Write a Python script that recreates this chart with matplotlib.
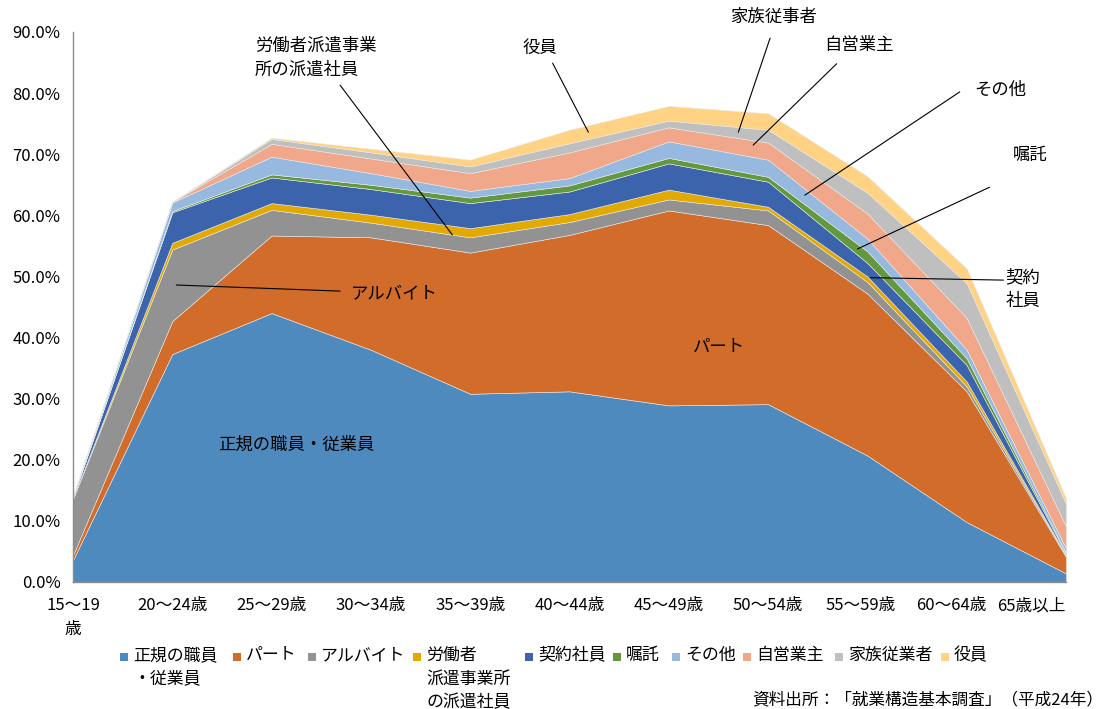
import matplotlib
matplotlib.use("Agg")
import matplotlib.pyplot as plt
import matplotlib.transforms as mtransforms
from matplotlib.patches import Rectangle
import numpy as np

plt.rcParams['font.family'] = ['Noto Sans CJK JP', 'DejaVu Sans']

# 年齢階級
ages = ["15～19\n歳", "20～24歳", "25～29歳", "30～34歳", "35～39歳", "40～44歳",
        "45～49歳", "50～54歳", "55～59歳", "60～64歳", "65歳以上"]

# 就業形態別の割合（%）
seiki     = [3.6, 37.3, 44.0, 38.0, 30.8, 31.2, 28.9, 29.1, 20.7, 9.8, 1.4]
part      = [0.8, 5.4, 12.7, 18.4, 23.1, 25.6, 31.9, 29.3, 26.5, 21.4, 2.7]
arubaito  = [9.2, 11.7, 4.2, 2.4, 2.5, 2.1, 1.8, 2.4, 1.9, 0.8, 0.2]
haken     = [0.1, 1.1, 1.1, 1.3, 1.5, 1.3, 1.6, 0.6, 0.9, 0.8, 0.1]
keiyaku   = [0.2, 5.0, 4.2, 4.2, 4.1, 3.7, 4.3, 4.1, 2.2, 2.7, 0.2]
shokutaku = [0.0, 0.2, 0.5, 0.7, 0.9, 1.0, 0.9, 0.8, 1.9, 1.1, 0.2]
sonota    = [0.1, 1.4, 2.9, 1.9, 1.1, 1.2, 2.7, 2.8, 2.1, 1.4, 0.7]
jieigyo   = [0.0, 0.1, 2.1, 2.4, 2.9, 4.2, 2.3, 2.8, 4.1, 5.2, 3.6]
kazoku    = [0.0, 0.0, 0.8, 1.0, 1.1, 1.5, 1.1, 2.1, 3.4, 5.7, 3.7]
yakuin    = [0.0, 0.0, 0.2, 0.6, 1.1, 2.2, 2.4, 2.7, 2.7, 2.4, 0.9]

series = [seiki, part, arubaito, haken, keiyaku, shokutaku, sonota, jieigyo, kazoku, yakuin]
legend_labels = ["正規の職員\n・従業員", "パート", "アルバイト", "労働者\n派遣事業所\nの派遣社員",
                 "契約社員", "嘱託", "その他", "自営業主", "家族従業者", "役員"]
colors = ["#4F8ABE", "#D26C2B", "#929292", "#E2AA00", "#3B64AD",
          "#62993E", "#97B9E0", "#F1A78A", "#BFBFBF", "#FFD284"]

W, H = 1105, 709
fig = plt.figure(figsize=(W / 100, H / 100), dpi=100)
ax = fig.add_axes([73 / W, 1 - 582 / H, (1066 - 73) / W, (582 - 32) / H])

x = np.arange(len(ages))
ax.stackplot(x, *series, colors=colors, edgecolor="#e8e8e8", linewidth=0.4)

ax.set_xlim(0, len(ages) - 1)
ax.set_ylim(0, 90)
ax.set_yticks(np.arange(0, 91, 10))
ax.set_yticklabels([f"{v:.1f}%" for v in np.arange(0, 91, 10)], fontsize=12)
ax.set_xticks(x)
ax.set_xticklabels(ages, fontsize=12, linespacing=1.5)
ax.tick_params(axis="both", length=0)
ax.tick_params(axis="y", pad=9)
ax.tick_params(axis="x", pad=11)

# Excel と同じく右端付近のラベルを少し左へ寄せる
xlabels = ax.get_xticklabels()
xlabels[-1].set_horizontalalignment("right")
for lab, dx in [(xlabels[-2], -0.15), (xlabels[-3], -0.07)]:
    shift = mtransforms.ScaledTranslation(dx, 0, fig.dpi_scale_trans)
    lab.set_transform(lab.get_transform() + shift)

for s in ["top", "right"]:
    ax.spines[s].set_visible(False)
for s in ["left", "bottom"]:
    ax.spines[s].set_color("#8c8c8c")
    ax.spines[s].set_linewidth(1.0)

# 系列ラベル（引き出し線つき）
fs = 12.5
ax.text(1.83, 85.8, "労働者派遣事業\n所の派遣社員", fontsize=fs, ha="left", va="center", linespacing=1.4)
ax.text(4.70, 87.4, "役員", fontsize=fs, ha="center", va="center")
ax.text(7.05, 92.5, "家族従事者", fontsize=fs, ha="center", va="center", clip_on=False)
ax.text(7.91, 87.9, "自営業主", fontsize=fs, ha="center", va="center")
ax.text(9.34, 80.5, "その他", fontsize=fs, ha="center", va="center")
ax.text(9.64, 69.9, "嘱託", fontsize=fs, ha="center", va="center")
ax.text(9.39, 47.9, "契約\n社員", fontsize=fs, ha="left", va="center", linespacing=1.4)
ax.text(3.24, 47.3, "アルバイト", fontsize=fs, ha="center", va="center")
ax.text(6.50, 38.5, "パート", fontsize=fs, ha="center", va="center")
ax.text(2.25, 22.4, "正規の職員・従業員", fontsize=fs, ha="center", va="center")

leaders = [((2.69, 81.3), (3.82, 56.8)),
           ((4.83, 84.9), (5.19, 73.6)),
           ((7.02, 89.0), (6.70, 73.6)),
           ((7.69, 84.8), (6.85, 71.5)),
           ((8.93, 80.2), (7.37, 63.3)),
           ((9.23, 64.6), (7.90, 54.5)),
           ((9.37, 49.4), (8.03, 49.8)),
           ((1.04, 48.6), (2.69, 47.6))]
for start, end in leaders:
    ax.annotate("", xy=end, xytext=start,
                arrowprops=dict(arrowstyle="-", color="black", lw=0.8,
                                shrinkA=0, shrinkB=0))

# 凡例
sq_x = [120, 233, 308, 413, 525, 613, 672, 743, 835, 941]
for px, lab, c in zip(sq_x, legend_labels, colors):
    fig.patches.append(Rectangle((px / W, 1 - 661 / H), 8 / W, 8 / H,
                                 transform=fig.transFigure, facecolor=c, edgecolor="none"))
    fig.text((px + 13) / W, 1 - 646 / H, lab, fontsize=12.2, ha="left", va="top",
             linespacing=1.4)

fig.text(1103 / W, 1 / H, "資料出所：「就業構造基本調査」（平成24年）",
         fontsize=12, ha="right", va="bottom")

fig.savefig("out.png", dpi=100)
